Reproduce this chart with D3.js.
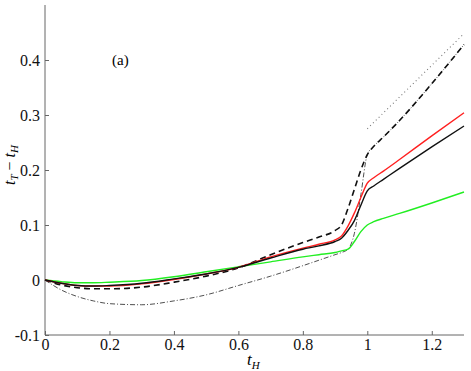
<!DOCTYPE html>
<html>
<head>
<meta charset="utf-8">
<script src="https://cdn.jsdelivr.net/npm/d3@7"></script>
</head>
<body style="margin:0">
<svg id="chart" width="471" height="371" font-family="Liberation Serif" style="font-family: 'Liberation Serif'"></svg>
<script>
// shared t_H grid for the main curves
const tGrid = [0, 0.05, 0.1, 0.15, 0.2, 0.3, 0.4, 0.5, 0.6, 0.7, 0.8, 0.85, 0.9, 0.92, 0.94, 0.96, 0.98, 1.0, 1.02, 1.05, 1.1, 1.2, 1.3];

const redVals = [0, -0.006, -0.010, -0.011, -0.011, -0.007, 0.001, 0.011, 0.023, 0.042, 0.058, 0.065, 0.073, 0.080, 0.098, 0.122, 0.150, 0.176, 0.186, 0.198, 0.219, 0.262, 0.304];
const blackVals = [0, -0.006, -0.010, -0.011, -0.010, -0.006, 0.002, 0.011, 0.023, 0.040, 0.056, 0.062, 0.070, 0.076, 0.090, 0.108, 0.136, 0.162, 0.171, 0.183, 0.203, 0.242, 0.280];
const dashedVals = [0, -0.009, -0.014, -0.016, -0.016, -0.013, -0.004, 0.007, 0.022, 0.046, 0.068, 0.078, 0.090, 0.100, 0.130, 0.165, 0.200, 0.228, 0.243, 0.260, 0.290, 0.357, 0.428];
const greenVals = [0, -0.003, -0.005, -0.005, -0.004, -0.001, 0.006, 0.015, 0.024, 0.033, 0.042, 0.046, 0.050, 0.053, 0.056, 0.070, 0.088, 0.100, 0.106, 0.112, 0.121, 0.140, 0.160];
const dashDotVals = [0, -0.018, -0.030, -0.038, -0.043, -0.045, -0.038, -0.027, -0.010, 0.007, 0.026, 0.036, 0.046, 0.050, 0.056, 0.085, 0.155, 0.228, 0.243, 0.260, 0.290, 0.357, 0.428];

// straight dotted line after t_H = 1
const dottedT = [1.0, 1.3];
const dottedVals = [0.275, 0.448];

const xTicks = [0, 0.2, 0.4, 0.6, 0.8, 1, 1.2];
const yTicks = [-0.1, 0, 0.1, 0.2, 0.3, 0.4];

const FONT = 'Liberation Serif';
const svg = d3.select('#chart');

const x = d3.scaleLinear().domain([0, 1.3]).range([45, 464]);
const y = d3.scaleLinear().domain([-0.1, 0.5]).range([335, 5]);

const axisColor = '#666';
const fmt = d => String(+d.toFixed(1));

// x axis (ticks pointing inward)
const xAxis = svg.append('g')
    .attr('transform', `translate(0,${y(-0.1)})`)
    .call(d3.axisBottom(x).tickValues(xTicks).tickSize(-4).tickPadding(4).tickFormat(fmt));
xAxis.attr('font-family', FONT).attr('font-size', 16);
xAxis.select('.domain').attr('stroke', axisColor).attr('d', `M${x(0)},0H${x(1.3)}`);
xAxis.selectAll('.tick line').attr('stroke', axisColor);
xAxis.selectAll('.tick text')
    .attr('fill', '#111')
    .attr('font-family', FONT)
    .style('font-family', FONT);

// y axis
const yAxis = svg.append('g')
    .attr('transform', `translate(${x(0)},0)`)
    .call(d3.axisLeft(y).tickValues(yTicks).tickSize(-4).tickPadding(5).tickFormat(fmt));
yAxis.attr('font-family', FONT).attr('font-size', 16);
yAxis.select('.domain').attr('stroke', axisColor).attr('d', `M0,${y(-0.1)}V${y(0.5)}`);
yAxis.selectAll('.tick line').attr('stroke', axisColor);
yAxis.selectAll('.tick text')
    .attr('fill', '#111')
    .attr('font-family', FONT)
    .style('font-family', FONT);

const line = d3.line()
    .x(d => x(d[0]))
    .y(d => y(d[1]))
    .curve(d3.curveMonotoneX);

const series = [
    { vals: dashDotVals, t: tGrid, color: '#222', width: 0.8, dash: '5,2,1,2' },
    { vals: dottedVals, t: dottedT, color: '#777', width: 1.1, dash: '1,3' },
    { vals: greenVals, t: tGrid, color: '#22ee22', width: 1.4, dash: null },
    { vals: dashedVals, t: tGrid, color: '#111', width: 1.6, dash: '6,4' },
    { vals: redVals, t: tGrid, color: '#ff2020', width: 1.4, dash: null },
    { vals: blackVals, t: tGrid, color: '#111', width: 1.4, dash: null }
];

svg.append('g')
    .selectAll('path')
    .data(series)
    .join('path')
    .attr('d', s => line(s.t.map((t, i) => [t, s.vals[i]])))
    .attr('fill', 'none')
    .attr('stroke', s => s.color)
    .attr('stroke-width', s => s.width)
    .attr('stroke-dasharray', s => s.dash);

// panel label
svg.append('text')
    .attr('x', 112)
    .attr('y', 65)
    .attr('font-size', 15)
    .attr('font-family', FONT)
    .style('font-family', FONT)
    .text('(a)');

// x label t_H
const xl = svg.append('text')
    .attr('x', 247)
    .attr('y', 365)
    .attr('font-size', 17)
    .attr('font-style', 'italic')
    .attr('font-family', FONT)
    .style('font-family', FONT);
xl.append('tspan').text('t');
xl.append('tspan').attr('font-size', 11).attr('dy', 4).text('H');

// y label t_T - t_H
const yl = svg.append('text')
    .attr('transform', 'translate(15,165) rotate(-90)')
    .attr('text-anchor', 'middle')
    .attr('font-size', 16)
    .attr('font-style', 'italic')
    .attr('font-family', FONT)
    .style('font-family', FONT);
yl.append('tspan').text('t');
yl.append('tspan').attr('font-size', 11).attr('dy', 3).text('T');
yl.append('tspan').attr('dy', -3).attr('font-style', 'normal').text(' \u2212 ');
yl.append('tspan').text('t');
yl.append('tspan').attr('font-size', 11).attr('dy', 3).text('H');
</script>
</body>
</html>
